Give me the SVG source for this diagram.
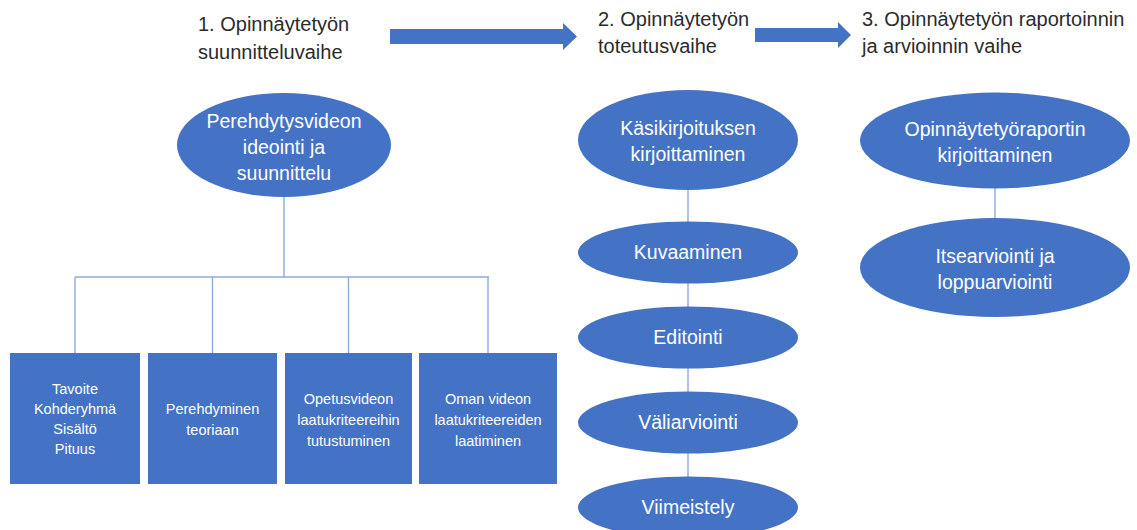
<svg xmlns="http://www.w3.org/2000/svg" width="1137" height="530" viewBox="0 0 1137 530">
<style>
.hdr{font-family:"Liberation Sans",Arial,sans-serif;font-size:20px;fill:#2b2b2b}
.nt{font-family:"Liberation Sans",Arial,sans-serif;font-size:19.5px;fill:#ffffff;text-anchor:middle}
.bt{font-family:"Liberation Sans",Arial,sans-serif;font-size:14.5px;fill:#ffffff;text-anchor:middle}
.shape{fill:#4472C4}
.con{stroke:#8FAADC;stroke-width:1.4;fill:none}
</style>
<rect width="1137" height="530" fill="#ffffff"/>
<g id="headers">
<text class="hdr" x="198" y="31">1. Opinnäytetyön</text>
<text class="hdr" x="198" y="59">suunnitteluvaihe</text>
<text class="hdr" x="598" y="26">2. Opinnäytetyön</text>
<text class="hdr" x="598" y="53">toteutusvaihe</text>
<text class="hdr" x="862" y="26">3. Opinnäytetyön raportoinnin</text>
<text class="hdr" x="862" y="53">ja arvioinnin vaihe</text>
</g>
<g id="phase-arrows">
<path class="shape" d="M390,29 H563 V23 L577,36.5 L563,50 V44 H390 Z"/>
<path class="shape" d="M755,28 H838 V22 L851,35 L838,48 V42 H755 Z"/>
</g>
<g id="connectors">
<path class="con" d="M284,197 V277 M75,277 H489 M75,277 V353 M212.5,277 V353 M348.5,277 V353 M488,277 V353"/>
<path class="con" d="M688,190 V222 M688,283 V307 M688,368 V392 M688,453 V477"/>
<path class="con" d="M995,188 V218"/>
</g>
<g id="n-ideointi">
<ellipse class="shape" cx="284" cy="145" rx="107" ry="52"/>
<text class="nt" x="284" y="128">Perehdytysvideon</text>
<text class="nt" x="284" y="154">ideointi ja</text>
<text class="nt" x="284" y="180">suunnittelu</text>
</g>
<g id="n-tavoite">
<rect class="shape" x="10" y="353" width="130" height="131"/>
<text class="bt" x="75" y="394">Tavoite</text>
<text class="bt" x="75" y="414">Kohderyhmä</text>
<text class="bt" x="75" y="434">Sisältö</text>
<text class="bt" x="75" y="454">Pituus</text>
</g>
<g id="n-perehdyminen">
<rect class="shape" x="148" y="353" width="129" height="131"/>
<text class="bt" x="212.5" y="414">Perehdyminen</text>
<text class="bt" x="212.5" y="435">teoriaan</text>
</g>
<g id="n-opetusvideon">
<rect class="shape" x="285" y="353" width="127" height="131"/>
<text class="bt" x="348.5" y="404">Opetusvideon</text>
<text class="bt" x="348.5" y="425">laatukriteereihin</text>
<text class="bt" x="348.5" y="446">tutustuminen</text>
</g>
<g id="n-oman">
<rect class="shape" x="419" y="353" width="138" height="131"/>
<text class="bt" x="488" y="404">Oman videon</text>
<text class="bt" x="488" y="425">laatukriteereiden</text>
<text class="bt" x="488" y="446">laatiminen</text>
</g>
<g id="n-kasikirjoitus">
<ellipse class="shape" cx="688" cy="140" rx="110" ry="50"/>
<text class="nt" x="688" y="135">Käsikirjoituksen</text>
<text class="nt" x="688" y="161">kirjoittaminen</text>
</g>
<g id="n-kuvaaminen">
<ellipse class="shape" cx="688" cy="252.5" rx="110" ry="31"/>
<text class="nt" x="688" y="259">Kuvaaminen</text>
</g>
<g id="n-editointi">
<ellipse class="shape" cx="688" cy="337.5" rx="110" ry="31"/>
<text class="nt" x="688" y="344">Editointi</text>
</g>
<g id="n-valiarviointi">
<ellipse class="shape" cx="688" cy="422.5" rx="110" ry="31"/>
<text class="nt" x="688" y="429">Väliarviointi</text>
</g>
<g id="n-viimeistely">
<ellipse class="shape" cx="688" cy="507.5" rx="110" ry="31"/>
<text class="nt" x="688" y="514">Viimeistely</text>
</g>
<g id="n-raportti">
<ellipse class="shape" cx="995" cy="140.5" rx="135" ry="48"/>
<text class="nt" x="995" y="136">Opinnäytetyöraportin</text>
<text class="nt" x="995" y="162">kirjoittaminen</text>
</g>
<g id="n-itsearviointi">
<ellipse class="shape" cx="995" cy="267.5" rx="135" ry="49.5"/>
<text class="nt" x="995" y="263">Itsearviointi ja</text>
<text class="nt" x="995" y="289">loppuarviointi</text>
</g>
</svg>
